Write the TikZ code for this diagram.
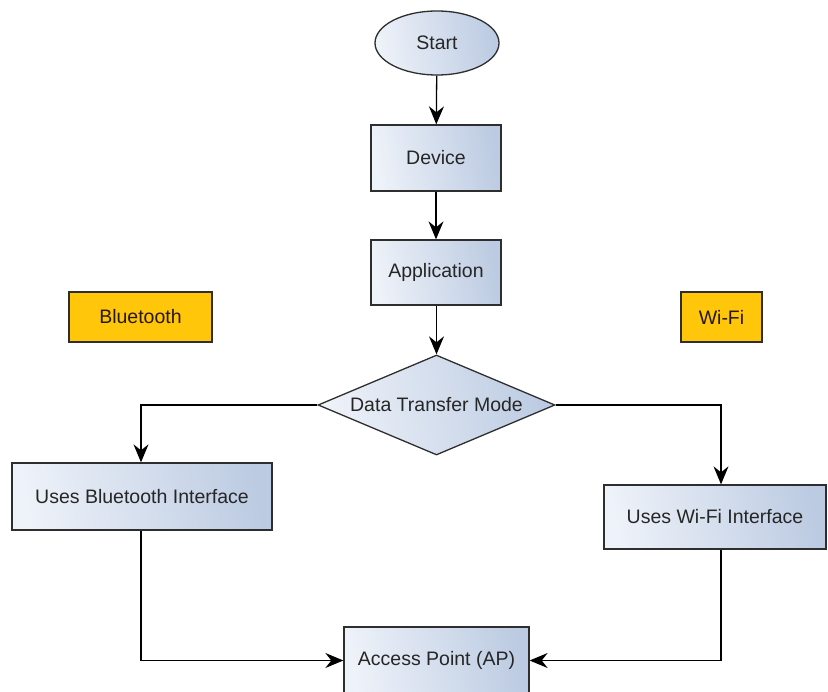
\documentclass[tikz,border=0pt]{standalone}
\usepackage{fontspec}
\setmainfont{Liberation Sans}
\usetikzlibrary{shapes.geometric,arrows.meta}
\definecolor{bordc}{HTML}{2E2E2E}
\definecolor{lightb}{HTML}{EEF2F9}
\definecolor{darkb}{HTML}{BCCBE2}
\definecolor{orng}{HTML}{FFC60A}
\begin{document}
\begin{tikzpicture}[x=1pt,y=-1pt,
  every node/.style={font=\fontsize{19.5}{22}\selectfont, text=black!85, inner sep=0pt},
  bluebox/.style={draw=bordc, line width=1.3pt, left color=lightb, right color=darkb, shading angle=100},
  procbox/.style={bluebox, rectangle},
  tagbox/.style={draw=bordc, line width=1.3pt, fill=orng, rectangle, text=black!80!brown},
  conn/.style={draw=black, line width=1.3pt, -{Stealth[length=18pt,width=15pt,inset=6pt]}}
]
\useasboundingbox (0,0) rectangle (828,692);
\fill[white] (0,0) rectangle (828,692);

\node[bluebox, ellipse, minimum width=124pt, minimum height=64pt] (start) at (437,43) {Start};
\node[procbox, minimum width=130pt, minimum height=66pt] (device) at (436,158) {Device};
\node[procbox, minimum width=130pt, minimum height=65pt] (app) at (436,272.5) {Application};
\node[bluebox, diamond, aspect=2.37, minimum width=237pt, minimum height=100pt] (mode) at (436.5,405) {Data Transfer Mode};
\node[tagbox, minimum width=143pt, minimum height=50pt] (bt) at (140.5,317) {Bluetooth};
\node[tagbox, minimum width=81pt, minimum height=50pt] (wf) at (721.5,317) {Wi-Fi};
\node[procbox, minimum width=260pt, minimum height=67pt] (ubt) at (142,496.5) {Uses Bluetooth Interface};
\node[procbox, minimum width=222pt, minimum height=64pt] (uwf) at (715,517) {Uses Wi-Fi Interface};
\node[procbox, minimum width=185pt, minimum height=67pt] (ap) at (436.5,660.5) {Access Point (AP)};

\coordinate (wfin) at ([xshift=6pt]uwf.north);
\coordinate (wfout) at ([xshift=6pt]uwf.south);
\coordinate (btout) at ([xshift=-1pt]ubt.south);

\draw[conn] (start) -- (device);
\draw[conn] (device) -- (app);
\draw[conn] (app.south -| mode.north) -- (mode.north);
\draw[conn] (mode.west) -| ([xshift=-1pt]ubt.north);
\draw[conn] (mode.east) -| (wfin);
\draw[conn] (btout) |- (ap.west);
\draw[conn] (wfout) |- (ap.east);
\end{tikzpicture}
\end{document}
